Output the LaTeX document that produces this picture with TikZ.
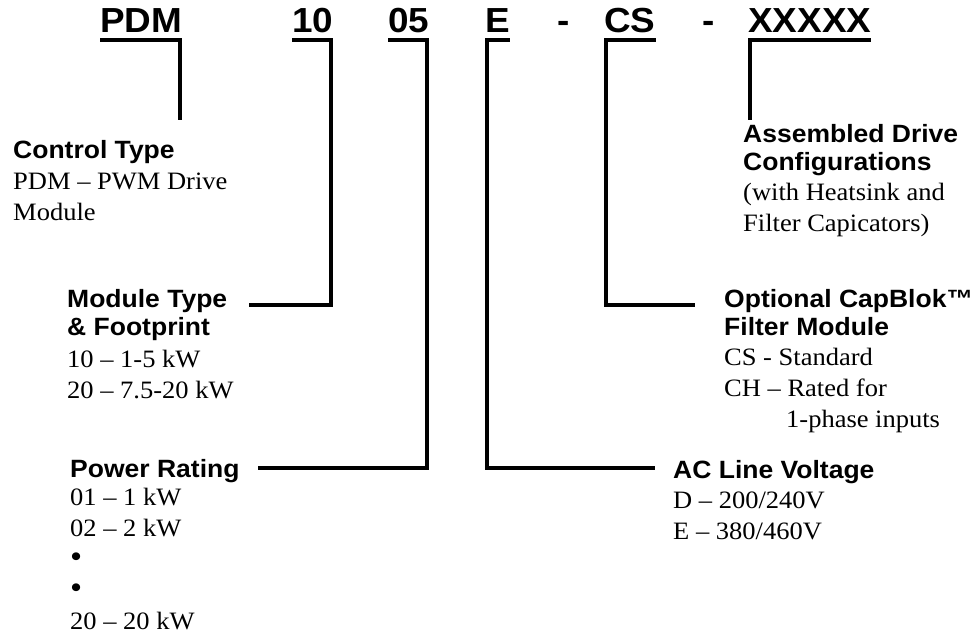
\documentclass[tikz,border=0pt]{standalone}
\usepackage{fontspec}
\setmainfont[FakeStretch=1.06]{Liberation Serif}
\newfontfamily\hdfont[FakeStretch=1.06]{Liberation Sans}
\newcommand{\hd}[1]{{\hdfont\bfseries #1}}
\newcommand{\bigbul}{\raisebox{0bp}{\scalebox{1.3}{•}}}
\begin{document}
\begin{tikzpicture}[x=1bp,y=-1bp,
  code/.style={anchor=base west, inner sep=0pt, font=\hdfont\bfseries\fontsize{34.8bp}{38bp}\selectfont},
  blk/.style={anchor=base west, inner sep=0pt, font=\fontsize{25bp}{31bp}\selectfont},
  uline/.style={line width=3.3bp},
  conn/.style={line width=4bp, line join=miter}]
\useasboundingbox (0,0) rectangle (972,637);
\fill[white] (0,0) rectangle (972,637);

% code line
\node[code] (pdm) at (100,33) {PDM};
\node[code] (m10) at (292,33) {10};
\node[code] (m05) at (388,33) {05};
\node[code] (mE)  at (485,33) {E};
\node[code] (d1)  at (557,33) {-};
\node[code] (mCS) at (604,33) {CS};
\node[code] (d2)  at (702,33) {-};
\node[code] (mX)  at (748,33) {XXXXX};

\foreach \n in {pdm,m10,m05,mE,mCS,mX}
  \draw[uline] ([yshift=-7bp]\n.base west) -- ([yshift=-7bp]\n.base east);

% description blocks
\node[blk] (ct) at (13,158.5) {\begin{tabular}[t]{@{}l@{}}
  \hd{Control Type}\\
  PDM -- PWM Drive\\
  Module
\end{tabular}};

\node[blk] (mt) at (67,307) {\begin{tabular}[t]{@{}l@{}}
  \hd{Module Type}\\[-3bp]
  \hd{\& Footprint}\\[1bp]
  10 -- 1-5 kW\\
  20 -- 7.5-20 kW
\end{tabular}};

\node[blk] (pr) at (70,477) {\begin{tabular}[t]{@{}l@{}}
  \hd{Power Rating}\\[-3bp]
  01 -- 1 kW\\
  02 -- 2 kW\\
  \bigbul\\
  \bigbul\\
  20 -- 20 kW
\end{tabular}};

\node[blk] (ad) at (743,143) {\begin{tabular}[t]{@{}l@{}}
  \hd{Assembled Drive}\\[-3bp]
  \hd{Configurations}\\[-1bp]
  (with Heatsink and\\
  Filter Capicators)
\end{tabular}};

\node[blk] (oc) at (724,307) {\begin{tabular}[t]{@{}l@{}}
  \hd{Optional CapBlok™}\\[-3bp]
  \hd{Filter Module}\\[-1bp]
  CS - Standard\\
  CH -- Rated for\\
  \hspace*{62bp}1-phase inputs
\end{tabular}};

\node[blk] (ac) at (673,478) {\begin{tabular}[t]{@{}l@{}}
  \hd{AC Line Voltage}\\[-1bp]
  D -- 200/240V\\
  E -- 380/460V
\end{tabular}};

% connector ends
\coordinate (aPDM) at ([xshift=-2bp,yshift=-7bp]pdm.base east);
\coordinate (a10)  at ([xshift=-2bp,yshift=-7bp]m10.base east);
\coordinate (a05)  at ([xshift=-2bp,yshift=-7bp]m05.base east);
\coordinate (aE)   at ([xshift=2bp,yshift=-7bp]mE.base west);
\coordinate (aCS)  at ([xshift=2bp,yshift=-7bp]mCS.base west);
\coordinate (aX)   at ([xshift=2bp,yshift=-7bp]mX.base west);
\coordinate (e10)  at (249,305);
\coordinate (e05)  at (258,468);
\coordinate (eE)   at (655,468);
\coordinate (eCS)  at (695,305);

\draw[conn] (aPDM) -- ++(0,80);
\draw[conn] (a10) |- (e10);
\draw[conn] (a05) |- (e05);
\draw[conn] (aE) |- (eE);
\draw[conn] (aCS) |- (eCS);
\draw[conn] (aX) -- ++(0,80);
\end{tikzpicture}
\end{document}
